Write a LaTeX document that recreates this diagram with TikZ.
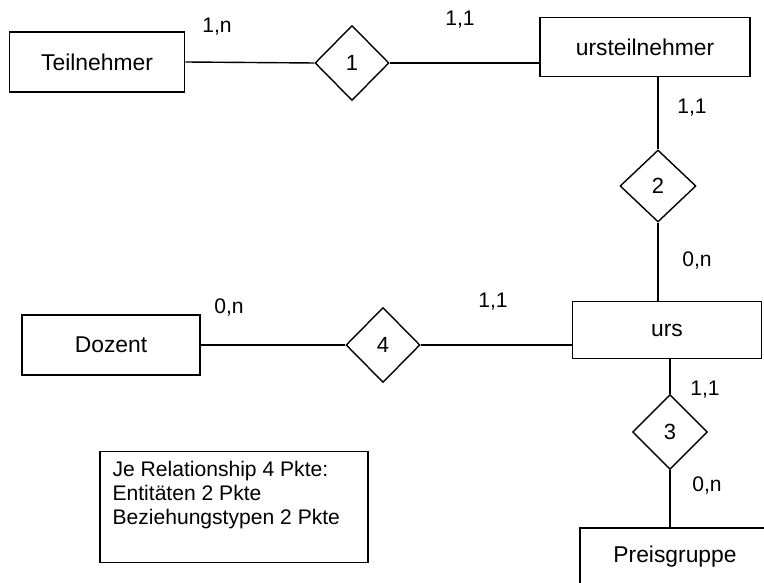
\documentclass[tikz,border=0pt]{standalone}
\usepackage{fontspec}
\setmainfont{Liberation Sans}
\usetikzlibrary{shapes.geometric}
\tikzset{
  ent/.style={draw=black, line width=1.1pt, inner sep=0pt, font=\fontsize{13}{15}\selectfont},
  rel/.style={diamond, draw=black, line width=0.8pt, inner sep=0pt, aspect=1, font=\fontsize{12.5}{14}\selectfont},
  conn/.style={line width=0.8pt, draw=black},
  card/.style={font=\fontsize{12}{14}\selectfont, inner sep=1pt},
}

\begin{document}
\begin{tikzpicture}[x=0.2mm, y=-0.2mm]
\clip (0,0) rectangle (764,583);
\useasboundingbox (0,0) rectangle (764,583);

% --- entitaeten ---
\node[ent, minimum width=3.5cm, minimum height=1.2cm] (teiln) at (97,62) {Teilnehmer};
\node[ent, minimum width=4.2cm, minimum height=1.18cm] (kteiln) at (645,47) {ursteilnehmer};
\node[ent, minimum width=3.78cm, minimum height=1.14cm] (kurs) at (667,330) {urs};
\node[ent, minimum width=3.56cm, minimum height=1.2cm] (dozent) at (111,345) {Dozent};
\node[ent, minimum width=3.8cm, minimum height=1.16cm] (preis) at (675,557) {Preisgruppe};

% --- beziehungen ---
\node[rel, minimum width=1.48cm, minimum height=1.5cm] (r1) at (352,63) {1};
\node[rel, minimum width=1.52cm, minimum height=1.44cm] (r2) at (658,186) {2};
\node[rel, minimum width=1.5cm, minimum height=1.5cm] (r3) at (670,432) {3};
\node[rel, minimum width=1.48cm, minimum height=1.5cm] (r4) at (383,345) {4};

% --- verbindungen ---
\draw[conn] (teiln.east) -- (r1.west);
\draw[conn] (r1.east) -- (r1.east -| kteiln.west);
\draw[conn] (r2.north) -- (r2.north |- kteiln.south);
\draw[conn] (r2.south) -- (r2.south |- kurs.north);
\draw[conn] (dozent.east) -- (r4.west);
\draw[conn] (r4.east) -- (r4.east -| kurs.west);
\draw[conn] (r3.north) -- (r3.north |- kurs.south);
\draw[conn] (r3.south) -- (r3.south |- preis.north);

% kardinalitaeten
\node[card] (c1a) at (217,27) {1,n};
\node[card] (c1b) at (460,20) {1,1};
\node[card] (c2a) at (692,108) {1,1};
\node[card] (c2b) at (697,260) {0,n};
\node[card] (c4a) at (229,307) {0,n};
\node[card] (c4b) at (493,302) {1,1};
\node[card] (c3a) at (705,390) {1,1};
\node[card] (c3b) at (707,485) {0,n};

% notiz
\node[draw=black, line width=0.9pt, minimum width=5.36cm, minimum height=2.22cm] (note) at (234,507) {};
\node[anchor=north west, align=left, inner sep=0pt, font=\fontsize{12}{13.7}\selectfont]
  (notetxt) at ([shift={(13,10)}]note.north west)
  {Je Relationship 4 Pkte:\\Entitäten 2 Pkte\\Beziehungstypen 2 Pkte};
\end{tikzpicture}
\end{document}
